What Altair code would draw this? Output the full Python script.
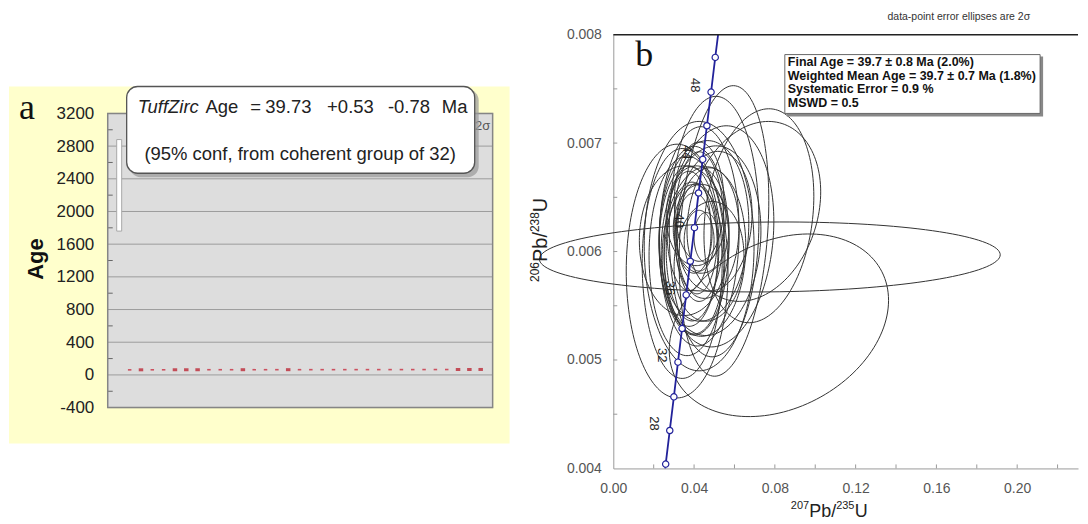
import altair as alt
import numpy as np
import pandas as pd

FONT = "Liberation Sans"
SERIF = "Liberation Serif"

# ---------------- panel a : TuffZirc ages ----------------
grain_no = list(range(1, 33))
grain_age = [37.6, 38.1, 38.4, 38.6, 38.8, 38.9, 39.0, 39.1, 39.2, 39.3, 39.4, 39.5,
             39.5, 39.6, 39.7, 39.7, 39.8, 39.9, 40.0, 40.1, 40.2, 40.3, 40.4, 40.5,
             40.6, 40.8, 41.0, 41.2, 41.4, 41.7, 42.0, 42.5]
grain_err = [1.0, 1.8, 1.0, 1.0, 2.5, 2.5, 2.8, 1.0, 1.0, 1.0, 2.4, 1.0,
             1.0, 1.0, 1.8, 1.0, 1.0, 1.0, 1.0, 1.0, 1.0, 1.0, 1.0, 1.0,
             1.0, 0.6, 1.0, 1.0, 1.0, 2.4, 2.4, 1.8]
age_ticks = [-400, 0, 400, 800, 1200, 1600, 2000, 2400, 2800, 3200]
age_minor = [-200, 200, 600, 1000, 1400, 1800, 2200, 2600, 3000]
legend_bar = [1760, 2880]

# ---------------- panel b : concordia ----------------
x_ticks = [0.00, 0.04, 0.08, 0.12, 0.16, 0.20]
x_minor = [0.02, 0.04, 0.06, 0.08, 0.10, 0.12, 0.14, 0.16, 0.18, 0.20, 0.22]
y_ticks = [0.004, 0.005, 0.006, 0.007, 0.008]
y_minor = [0.0045, 0.005, 0.0055, 0.006, 0.0065, 0.007, 0.0075]

conc_x = [0.02572, 0.02594, 0.02796, 0.02999, 0.03202, 0.03405, 0.03609, 0.03813,
          0.04018, 0.04223, 0.04429, 0.04635, 0.04841, 0.05048, 0.05189]
conc_y = [0.00400, 0.00404, 0.00435, 0.00466, 0.00498, 0.00529, 0.00560, 0.00591,
          0.00622, 0.00654, 0.00685, 0.00716, 0.00747, 0.00779, 0.00800]
mark_age = [26, 28, 30, 32, 34, 36, 38, 40, 42, 44, 46, 48, 50]
mark_x = [0.02594, 0.02796, 0.02999, 0.03202, 0.03405, 0.03609, 0.03813,
          0.04018, 0.04223, 0.04429, 0.04635, 0.04841, 0.05048]
mark_y = [0.00404, 0.00435, 0.00466, 0.00498, 0.00529, 0.00560, 0.00591,
          0.00622, 0.00654, 0.00685, 0.00716, 0.00747, 0.00779]

# error ellipses: centre, semi-axes, correlation tilt
ell_cx = [0.0775, 0.0820, 0.0316, 0.0548, 0.0499, 0.0721, 0.0696, 0.0425, 0.0400, 0.0449,
          0.0375, 0.0425, 0.0464, 0.0415, 0.0435, 0.0400, 0.0425, 0.0365, 0.0484, 0.0449,
          0.0375, 0.0341, 0.0499, 0.0390, 0.0474, 0.0410, 0.0523, 0.0351, 0.0425, 0.0459,
          0.0400, 0.0425]
ell_cy = [0.00595, 0.00532, 0.00582, 0.00619, 0.00623, 0.00633, 0.00637, 0.00614, 0.00610, 0.00619,
          0.00605, 0.00623, 0.00617, 0.00612, 0.00621, 0.00617, 0.00610, 0.00596, 0.00610, 0.00600,
          0.00619, 0.00589, 0.00628, 0.00600, 0.00591, 0.00633, 0.00614, 0.00610, 0.00605, 0.00613,
          0.00593, 0.00646]
ell_rx = [0.1141, 0.0543, 0.0252, 0.0222, 0.0222, 0.0272, 0.0331, 0.0198, 0.0173, 0.0222,
          0.0148, 0.0123, 0.0158, 0.0099, 0.0138, 0.0089, 0.0074, 0.0188, 0.0247, 0.0207,
          0.0109, 0.0198, 0.0188, 0.0128, 0.0173, 0.0148, 0.0272, 0.0222, 0.0272, 0.0059,
          0.0148, 0.0123]
ell_ry = [0.000322, 0.00081, 0.00117, 0.00131, 0.00120, 0.00097, 0.00081, 0.00101, 0.00087, 0.00083,
          0.00074, 0.00069, 0.00060, 0.00051, 0.00041, 0.00037, 0.00028, 0.00092, 0.00087, 0.00078,
          0.00055, 0.00106, 0.00064, 0.00064, 0.00055, 0.00046, 0.00101, 0.00069, 0.00115, 0.00023,
          0.00069, 0.00055]
ell_tilt = [0.00002, 0.00023, 0.0, 0.00028, 0.00005, 0.00018, 0.00018, 0.00005, 0.0, 0.00007,
            0.0, 0.0, 0.00005, 0.0, 0.0, 0.0, 0.0, 0.0, 0.00009, 0.00005,
            0.0, 0.0, 0.00007, 0.0, 0.00005, 0.0, 0.00014, 0.0, 0.0, 0.0,
            0.0, 0.0]

# ---------------- helpers ----------------
one = pd.DataFrame({"k": [0]})


def box(x, x2, y, y2, **kw):
    return alt.Chart(one).mark_rect(**kw).encode(
        x=alt.value(x), x2=alt.value(x2), y=alt.value(y), y2=alt.value(y2))


def label(text, x, y, **kw):
    return alt.Chart(pd.DataFrame({"t": [text]})).mark_text(**kw).encode(
        x=alt.value(x), y=alt.value(y), text="t:N")


# ================= panel a =================
WA, HA = 386, 374
xa = alt.Scale(domain=[-0.9375, 33.056], nice=False, zero=False)
ya = alt.Scale(domain=[-400, 4164.07], nice=False, zero=False)
axa = alt.Axis(values=age_ticks, labelExpr="'' + datum.value", grid=False, ticks=False,
               domain=False, labelFont=FONT, labelFontSize=17, labelColor="#222222",
               labelPadding=14, title=None, zindex=2)

ages_df = pd.DataFrame({"grain": grain_no, "age": grain_age, "err": grain_err})
frame_df = pd.DataFrame({"lo": [age_ticks[0]], "hi": [age_ticks[-1]]})
bar_df = pd.DataFrame({"lo": [legend_bar[0]], "hi": [legend_bar[1]]})

anchor_a = box(-99, 401, -25, 470, fill="white")
yellow = box(-99, 403, 52, 410, fill="#ffffcc")
grey = alt.Chart(frame_df).mark_rect(fill="#dddddd").encode(
    x=alt.value(0), x2=alt.value(WA), y=alt.Y("lo:Q", scale=ya, axis=axa), y2="hi:Q")
grid = alt.Chart(pd.DataFrame({"v": age_ticks})).mark_rule(color="#9c9c9c", strokeWidth=1).encode(
    x=alt.value(0), x2=alt.value(WA), y=alt.Y("v:Q", scale=ya, axis=axa))
minor = alt.Chart(pd.DataFrame({"v": age_minor})).mark_rule(color="#666666", strokeWidth=1).encode(
    x=alt.value(0), x2=alt.value(5), y=alt.Y("v:Q", scale=ya, axis=axa))
frame = alt.Chart(frame_df).mark_rect(fillOpacity=0, stroke="#858585", strokeWidth=1.5).encode(
    x=alt.value(0), x2=alt.value(WA), y=alt.Y("lo:Q", scale=ya, axis=axa), y2="hi:Q")
wbar = alt.Chart(bar_df).mark_rect(fill="white", stroke="#a8a8a8", strokeWidth=1).encode(
    x=alt.value(9), x2=alt.value(14), y=alt.Y("lo:Q", scale=ya, axis=axa), y2="hi:Q")
small = alt.Chart(ages_df).transform_filter("datum.err < 1.5").mark_tick(
    orient="horizontal", color="#c4162a", size=3.5, thickness=1.6, yOffset=-2).encode(
    x=alt.X("grain:Q", scale=xa, axis=None), y=alt.Y("age:Q", scale=ya, axis=axa))
big = alt.Chart(ages_df).transform_filter("datum.err >= 1.5").mark_tick(
    orient="horizontal", color="#b8101f", size=4.5, thickness=3, yOffset=-2).encode(
    x=alt.X("grain:Q", scale=xa, axis=None), y=alt.Y("age:Q", scale=ya, axis=axa))

two_sig = label("2σ", 376, 92, fontSize=13, color="#555555", align="center", baseline="middle")
shadow_a = box(22, 372, 55, 143, fill="#999999", opacity=0.7, cornerRadius=11)
card_a = box(19, 368, 52, 139, fill="white", stroke="#555555", strokeWidth=1.3, cornerRadius=11)
ta = dict(fontSize=18.5, color="#222222", align="left", baseline="middle", font=FONT)
line1 = [
    label("TuffZirc", 30, 73, fontStyle="italic", **ta),
    label("Age", 98, 73, **ta),
    label("=", 143, 73, **ta),
    label("39.73", 158, 73, **ta),
    label("+0.53", 220, 73, **ta),
    label("-0.78", 281, 73, **ta),
    label("Ma", 335, 73, **ta),
]
line2 = label("(95% conf, from coherent group of 32)", 193, 120, fontSize=18.5, color="#222222",
              align="center", baseline="middle", font=FONT)
tag_a = label("a", -89, 85, font=SERIF, fontSize=36, color="#111111", align="left", baseline="alphabetic")
age_title = label("Age", -72, 225, font=FONT, fontSize=22, fontWeight="bold", angle=270,
                  color="#111111", align="center", baseline="middle")

panel_a = alt.layer(anchor_a, yellow, grey, grid, minor, frame, wbar, small, big, two_sig,
                    shadow_a, card_a, *line1, line2, tag_a, age_title).properties(width=WA, height=HA)

# ================= panel b =================
WB, HB = 466, 435
xb = alt.Scale(domain=[0, 0.23012], nice=False, zero=False)
yb = alt.Scale(domain=[0.004, 0.008], nice=False, zero=False)
axbx = alt.Axis(values=x_ticks, format=".2f", grid=False, ticks=False, domainColor="#9a9a9a",
                labelFont=FONT, labelFontSize=14, labelColor="#555555", labelPadding=13,
                labelFlush=False, title=None)
axby = alt.Axis(values=y_ticks, format=".3f", grid=False, ticks=False, domainColor="#9a9a9a",
                labelFont=FONT, labelFontSize=14, labelColor="#555555", labelPadding=12, title=None)

t = np.linspace(0, 2 * np.pi, 145)
rows = []
for i in range(len(ell_cx)):
    xs = ell_cx[i] + ell_rx[i] * np.cos(t)
    ys = ell_cy[i] + ell_ry[i] * np.sin(t) + ell_tilt[i] * np.cos(t)
    for k in range(len(t)):
        rows.append({"id": i, "k": k, "x": float(xs[k]), "y": float(ys[k])})
ell_df = pd.DataFrame(rows)

conc_df = pd.DataFrame({"k": list(range(len(conc_x))), "x": conc_x, "y": conc_y})
mark_df = pd.DataFrame({"age": mark_age, "x": mark_x, "y": mark_y})
lab_df = mark_df[mark_df["age"] % 4 == 0]

BLUE = "#22229a"
ellipses = alt.Chart(ell_df).mark_line(color="#333333", strokeWidth=1).encode(
    x=alt.X("x:Q", scale=xb, axis=axbx), y=alt.Y("y:Q", scale=yb, axis=axby),
    detail="id:N", order="k:Q")
conc_line = alt.Chart(conc_df).mark_line(color=BLUE, strokeWidth=1.8).encode(
    x=alt.X("x:Q", scale=xb, axis=axbx), y=alt.Y("y:Q", scale=yb, axis=axby), order="k:Q")
conc_pts = alt.Chart(mark_df).mark_point(shape="circle", filled=True, fill="white", stroke=BLUE,
                                          strokeWidth=1.2, size=40, opacity=1).encode(
    x=alt.X("x:Q", scale=xb, axis=axbx), y=alt.Y("y:Q", scale=yb, axis=axby))
conc_lab = alt.Chart(lab_df).mark_text(angle=90, fontSize=13, color="#222222", font=FONT,
                                        xOffset=-16, yOffset=-7, align="center", baseline="middle").encode(
    x=alt.X("x:Q", scale=xb, axis=axbx), y=alt.Y("y:Q", scale=yb, axis=axby), text="age:N")
top_rule = alt.Chart(pd.DataFrame({"v": [y_ticks[-1]]})).mark_rule(color="#222222", strokeWidth=1.5).encode(
    y=alt.Y("v:Q", scale=yb, axis=axby), x=alt.value(0), x2=alt.value(WB))
ytick_in = alt.Chart(pd.DataFrame({"v": y_minor})).mark_rule(color="#9a9a9a").encode(
    y=alt.Y("v:Q", scale=yb, axis=axby), x=alt.value(0), x2=alt.value(4))
xtick_in = alt.Chart(pd.DataFrame({"v": x_minor})).mark_rule(color="#9a9a9a").encode(
    x=alt.X("v:Q", scale=xb, axis=axbx), y=alt.value(HB - 4), y2=alt.value(HB))

shadow_b = box(174, 431, 22, 82, fill="#888888")
card_b = box(172, 428, 20, 79, fill="white", stroke="#666666", strokeWidth=1)
tb = dict(fontSize=12.5, fontWeight="bold", color="#111111", align="left", baseline="middle", font=FONT)
info = [
    label("Final Age = 39.7 ± 0.8 Ma (2.0%)", 175, 27, **tb),
    label("Weighted Mean Age = 39.7 ± 0.7 Ma (1.8%)", 175, 41, **tb),
    label("Systematic Error = 0.9 %", 175, 55, **tb),
    label("MSWD = 0.5", 175, 69, **tb),
]
note = label("data-point error ellipses are 2σ", 418, -18, fontSize=10.5, color="#333333",
             align="right", baseline="middle", font=FONT)
tag_b = label("b", 22, 31, font=SERIF, fontSize=36, color="#111111", align="left", baseline="alphabetic")

# axis titles built from pieces so the isotope numbers sit as superscripts
tx = dict(color="#222222", align="left", baseline="alphabetic", font=FONT)
x_title = [
    label("207", 178, 476, fontSize=11, **tx),
    label("Pb/", 196.5, 484, fontSize=18, **tx),
    label("235", 223.5, 476, fontSize=11, **tx),
    label("U", 242, 484, fontSize=18, **tx),
]
y_title = [
    label("206", -75, 248, fontSize=12, angle=270, **tx),
    label("Pb/", -66, 228, fontSize=20, angle=270, **tx),
    label("238", -75, 198, fontSize=12, angle=270, **tx),
    label("U", -66, 178, fontSize=20, angle=270, **tx),
]

panel_b = alt.layer(ellipses, conc_line, conc_lab, conc_pts, top_rule, ytick_in, xtick_in,
                    shadow_b, card_b, *info, note, tag_b, *x_title, *y_title).properties(width=WB, height=HB)

chart = alt.hconcat(panel_a, panel_b, spacing=121, bounds="flush").properties(
    padding=0
).configure(font=FONT).configure_view(stroke="transparent")

chart.save("out.html", embed_options={"renderer": "svg", "actions": False})
